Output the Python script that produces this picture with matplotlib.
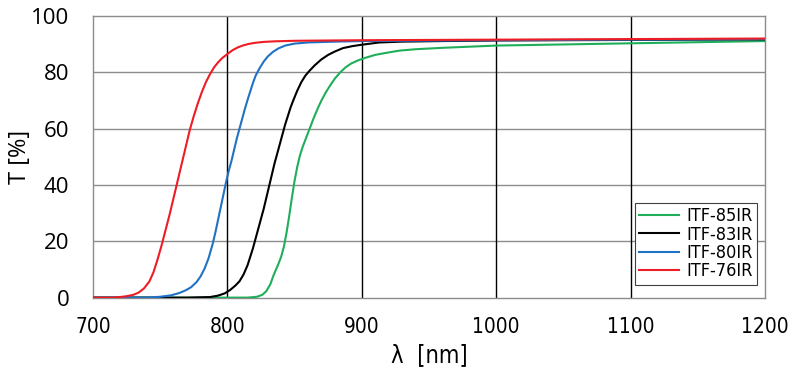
"""Transmission curves of the ITF IR long-pass filters."""
import matplotlib
matplotlib.use("Agg")
import matplotlib.pyplot as plt

# ITF-76IR (red)
wl_76 = [700, 715, 720, 725, 730, 734, 738, 742, 745, 748, 751, 754, 757, 760,
         763, 766, 769, 772, 775, 778, 781, 784, 787, 790, 793, 796, 800, 804,
         808, 812, 816, 821, 827, 835, 850, 900, 1000, 1100, 1200]
t_76 = [0, 0, 0.2, 0.5, 1.0, 1.8, 3.3, 5.8, 9.0, 13.5, 18.5, 24, 29.5, 35.5,
        41.5, 47.5, 53.5, 59.5, 64.5, 69, 73, 76.5, 79.3, 81.7, 83.5, 85, 86.5, 87.9,
        88.9, 89.6, 90.1, 90.5, 90.8, 91.0, 91.2, 91.4, 91.6, 91.8, 92.0]

# ITF-80IR (blue)
wl_80 = [700, 740, 750, 758, 764, 769, 773, 777, 780, 783, 786, 789, 791, 793,
         795, 797, 799, 801, 803, 805, 807, 809, 811, 813, 815, 817, 819, 821,
         824, 827, 830, 834, 838, 843, 850, 860, 880, 900, 1000, 1100, 1200]
t_80 = [0, 0, 0.3, 0.8, 1.6, 2.6, 3.7, 5.5, 7.5, 10.3, 14, 19, 23, 27.5,
        32, 36.5, 41, 45, 48.5, 52.5, 56.5, 60, 63.5, 67, 70.2, 73.2, 76.2, 78.8,
        81.5, 83.8, 85.6, 87.3, 88.5, 89.5, 90.2, 90.6, 90.9, 91.1, 91.4, 91.6, 91.8]

# ITF-83IR (black)
wl_83 = [700, 770, 787, 793, 798, 802, 806, 809, 812, 815, 817, 819, 821, 823,
         825, 827, 829, 831, 833, 835, 837, 839, 841, 843, 845, 847, 849, 852,
         855, 858, 861, 865, 870, 875, 880, 886, 893, 900, 913, 930, 960, 1000,
         1100, 1200]
t_83 = [0, 0, 0.2, 0.7, 1.5, 2.7, 4.3, 5.8, 8.2, 11.5, 14.5, 17.5, 21, 24.5,
        28, 31.5, 35.5, 39.5, 43.5, 47.5, 51, 54.5, 58, 61.5, 64.5, 67.5, 70, 73.5,
        76.5, 78.8, 80.5, 82.5, 84.6, 86.2, 87.4, 88.6, 89.3, 89.8, 90.6, 90.9, 91.1, 91.3,
        91.5, 91.7]

# ITF-85IR (green)
wl_85 = [700, 815, 822, 826, 829, 832, 834, 836, 838, 840, 842, 844, 846, 848,
         850, 852, 854, 856, 858, 860, 862, 864, 866, 868, 870, 873, 876, 880,
         884, 888, 892, 897, 903, 910, 918, 928, 940, 960, 980, 1000, 1050, 1100,
         1150, 1200]
t_85 = [0, 0, 0.3, 1.0, 2.3, 4.8, 7.5, 9.8, 12, 14.5, 18, 23, 29, 35.5,
        41.5, 46.5, 50.5, 53.5, 56, 58.5, 61, 63.5, 65.8, 68, 70, 72.7, 75, 77.8,
        80, 81.8, 83.1, 84.2, 85.2, 86.2, 86.9, 87.7, 88.2, 88.7, 89.1, 89.5, 89.9, 90.3,
        90.7, 91.1]

series = [
    ("ITF-85IR", wl_85, t_85, "#1fae5a"),
    ("ITF-83IR", wl_83, t_83, "#000000"),
    ("ITF-80IR", wl_80, t_80, "#1f72c4"),
    ("ITF-76IR", wl_76, t_76, "#ee1c24"),
]

x_ticks = [700, 800, 900, 1000, 1100, 1200]
y_ticks = [0, 20, 40, 60, 80, 100]

narrow = {"family": "DejaVu Sans", "stretch": "condensed"}

fig = plt.figure(figsize=(7.99, 3.8), dpi=100)
fig.patch.set_facecolor("#ffffff")
ax = fig.add_axes([0.1164, 0.2168, 0.841, 0.7411])

for label, wl, t, color in series:
    ax.plot(wl, t, color=color, lw=1.5, label=label, zorder=3,
            solid_joinstyle="round")

ax.set_xlim(700, 1200)
ax.set_ylim(0, 100)
ax.set_xticks(x_ticks)
ax.set_yticks(y_ticks)

# horizontal grid grey, vertical grid black
for y in y_ticks[1:-1]:
    ax.axhline(y, color="#8c8c8c", lw=1.0, zorder=1)
for x in x_ticks[1:-1]:
    ax.axvline(x, color="#000000", lw=1.0, zorder=1)

for s in ax.spines.values():
    s.set_color("#8c8c8c")
    s.set_linewidth(1.0)
ax.tick_params(axis="y", length=0, pad=17)
ax.tick_params(axis="x", length=0, pad=14)

for lbl in ax.get_yticklabels():
    lbl.set_family(["Open Sans", "DejaVu Sans"])
    lbl.set_fontsize(16)
for lbl in ax.get_xticklabels():
    lbl.set_family(narrow["family"])
    lbl.set_stretch(narrow["stretch"])
    lbl.set_fontsize(15)

ax.set_ylabel("T [%]", fontsize=17, family=["Open Sans", "DejaVu Sans"],
              va="center")
ax.yaxis.set_label_coords(-0.109, 0.5)
ax.set_xlabel("λ  [nm]", fontsize=17, va="center", **narrow)
ax.xaxis.set_label_coords(0.5, -0.204)

leg = ax.legend(loc="lower right", bbox_to_anchor=(0.988, 0.045), fancybox=False,
                framealpha=1, edgecolor="#404040", handlelength=2.2,
                borderpad=0.25, labelspacing=0.02, handletextpad=0.4,
                borderaxespad=0,
                prop={"family": narrow["family"], "stretch": narrow["stretch"],
                      "size": 13})
leg.get_frame().set_linewidth(0.8)

fig.savefig("out.png", dpi=100, facecolor="#ffffff")
